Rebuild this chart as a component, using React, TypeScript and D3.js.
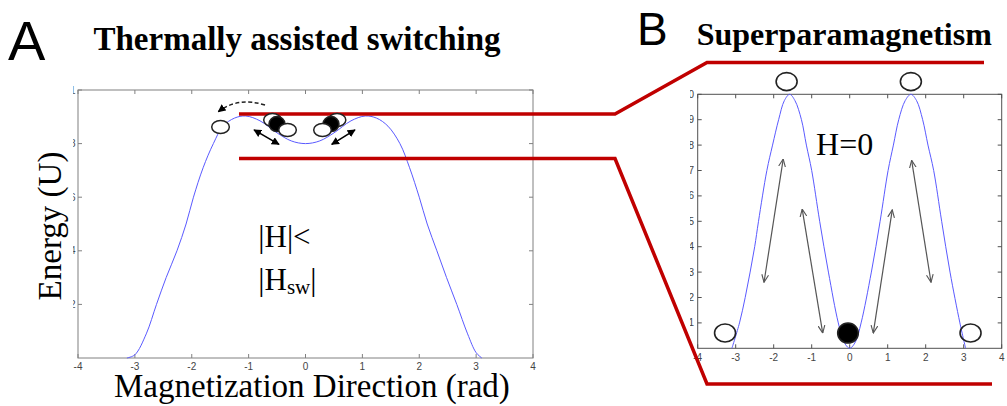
import React from 'react';
import * as d3 from 'd3';

// Panel A: energy landscape, |H| < |Hsw|
const thetaA = [-3.14, -3.0, -2.8, -2.62, -2.45, -2.26, -2.1, -1.97, -1.8, -1.62, -1.45, -1.25, -1.05, -0.8, -0.5, -0.25, 0, 0.25, 0.5, 0.8, 1.05, 1.25, 1.45, 1.66, 1.83, 2.0, 2.14, 2.31, 2.48, 2.66, 2.85, 3.0, 3.1];
const energyA = [0.0, 0.012, 0.09, 0.2, 0.3, 0.4, 0.5, 0.6, 0.71, 0.8, 0.865, 0.895, 0.903, 0.885, 0.84, 0.81, 0.8, 0.81, 0.84, 0.885, 0.903, 0.895, 0.865, 0.8, 0.71, 0.6, 0.5, 0.4, 0.3, 0.2, 0.09, 0.02, 0.0];

// Panel B: energy landscape, H = 0
const thetaB = [-3.1, -2.9, -2.75, -2.62, -2.5, -2.4, -2.18, -2.03, -1.87, -1.72, -1.58, -1.44, -1.27, -1.14, -1.0, -0.79, -0.56, -0.3, -0.15, 0, 0.15, 0.3, 0.57, 0.8, 1.01, 1.15, 1.29, 1.46, 1.61, 1.76, 1.92, 2.06, 2.21, 2.42, 2.64, 2.9, 3.05];
const energyB = [0.0, 0.1, 0.2, 0.3, 0.4, 0.5, 0.7, 0.8, 0.9, 0.975, 1.0, 0.975, 0.9, 0.8, 0.7, 0.5, 0.3, 0.1, 0.025, 0.0, 0.025, 0.1, 0.3, 0.5, 0.7, 0.8, 0.9, 0.975, 1.0, 0.975, 0.9, 0.8, 0.7, 0.5, 0.3, 0.1, 0.0];

const xTickValues = [-4, -3, -2, -1, 0, 1, 2, 3, 4];
const xTickLabels = ['-4', '-3', '-2', '-1', '0', '1', '2', '3', '4'];
const yTickValuesA = [0.2, 0.4, 0.6, 0.8, 1.0];
const yTickLabelsA = ['0.2', '0.4', '0.6', '0.8', '1'];
const yTickValuesB = [0.1, 0.2, 0.3, 0.4, 0.5, 0.6, 0.7, 0.8, 0.9, 1.0];
const yTickLabelsB = ['0.1', '0.2', '0.3', '0.4', '0.5', '0.6', '0.7', '0.8', '0.9', '1.0'];

// Annotation particles (data coordinates)
const particleXA = [-1.494, -0.58, -0.501, -0.316, 0.554, 0.448, 0.299];
const particleYA = [0.862, 0.888, 0.873, 0.851, 0.888, 0.873, 0.851];
const particleFilledA = [false, false, true, false, false, true, false];

const particleXB = [-1.66, 1.61, -3.28, -0.045, 3.18];
const particleYB = [1.05, 1.05, 0.06, 0.06, 0.06];
const particleFilledB = [false, false, false, true, false];

// Double arrows (data coordinates) in panel A
const arrowsA = [
  [-0.905, 0.851, -0.466, 0.797],
  [0.461, 0.797, 0.87, 0.851],
];
// Gray double arrows in panel B
const arrowsB = [
  [-1.75, 0.745, -2.255, 0.26],
  [-1.25, 0.548, -0.71, 0.06],
  [1.12, 0.545, 0.62, 0.06],
  [1.63, 0.74, 2.14, 0.26],
];

const W = 1007;
const H = 406;

const serif = '"Liberation Serif", "Times New Roman", serif';
const sans = '"Liberation Sans", Arial, sans-serif';

export default function App() {
  const xA = d3.scaleLinear().domain([-4, 4]).range([78, 533]);
  const yA = d3.scaleLinear().domain([0, 1]).range([358, 90]);
  const xB = d3.scaleLinear().domain([-4, 4]).range([697.7, 1001.7]);
  const yB = d3.scaleLinear().domain([0, 1]).range([348.3, 94.3]);

  const lineA = d3
    .line<number>()
    .x((d, i) => xA(thetaA[i]))
    .y((d) => yA(d))
    .curve(d3.curveCatmullRom.alpha(0.5));
  const lineB = d3
    .line<number>()
    .x((d, i) => xB(thetaB[i]))
    .y((d) => yB(d))
    .curve(d3.curveCatmullRom.alpha(0.5));

  const tick = 4;

  const axisBox = (
    x: d3.ScaleLinear<number, number>,
    y: d3.ScaleLinear<number, number>,
    yVals: number[],
    yLabels: string[],
    color: string,
    xLabelY: number,
    yLabelX: number,
    clipId: string
  ) => {
    const [x0, x1] = x.range();
    const [y0, y1] = y.range();
    return (
      <g>
        <rect x={x0} y={y1} width={x1 - x0} height={y0 - y1} fill="none" stroke={color} strokeWidth={1} />
        {xTickValues.map((v, i) => (
          <g key={'xt' + i}>
            <line x1={x(v)} x2={x(v)} y1={y0} y2={y0 - tick} stroke={color} />
            <line x1={x(v)} x2={x(v)} y1={y1} y2={y1 + tick} stroke={color} />
            <text x={x(v)} y={xLabelY} fontFamily={sans} fontSize={10} fill="#444" textAnchor="middle">
              {xTickLabels[i]}
            </text>
          </g>
        ))}
        {yVals.map((v, i) => (
          <g key={'yt' + i}>
            <line x1={x0} x2={x0 + tick} y1={y(v)} y2={y(v)} stroke={color} />
            <line x1={x1} x2={x1 - tick} y1={y(v)} y2={y(v)} stroke={color} />
            <text
              x={yLabelX}
              y={y(v) + 3.5}
              fontFamily={sans}
              fontSize={10}
              fill="#444"
              textAnchor="end"
              clipPath={`url(#${clipId})`}
            >
              {yLabels[i]}
            </text>
          </g>
        ))}
      </g>
    );
  };

  const red = '#c00000';

  return (
    <svg
      width={W}
      height={H}
      viewBox={`0 0 ${W} ${H}`}
      style={{ position: 'absolute', left: 0, top: 0, background: '#fff' }}
    >
      <defs>
        <clipPath id="clipA">
          <rect x={73.2} y={0} width={10} height={H} />
        </clipPath>
        <clipPath id="clipB">
          <rect x={690} y={0} width={10} height={H} />
        </clipPath>
        <marker
          id="solidHead"
          viewBox="0 0 10 10"
          refX={9}
          refY={5}
          markerWidth={8}
          markerHeight={8}
          markerUnits="userSpaceOnUse"
          orient="auto-start-reverse"
        >
          <path d="M0,0 L10,5 L0,10 z" fill="#000" />
        </marker>
        <marker
          id="openHead"
          viewBox="0 0 10 10"
          refX={9.5}
          refY={5}
          markerWidth={8}
          markerHeight={8}
          markerUnits="userSpaceOnUse"
          orient="auto-start-reverse"
        >
          <path d="M0,0.8 L9.5,5 L0,9.2" fill="none" stroke="#555" strokeWidth={1.4} />
        </marker>
      </defs>

      <rect x={0} y={0} width={W} height={H} fill="#fff" />

      {/* Panel labels and titles */}
      <text x={8} y={60} fontFamily={sans} fontSize={56} fill="#000">A</text>
      <text x={93.5} y={50} fontFamily={serif} fontSize={33} fontWeight="bold" fill="#000">
        Thermally assisted switching
      </text>
      <text x={637} y={45} fontFamily={sans} fontSize={46} fill="#000">B</text>
      <text x={696.7} y={44.5} fontFamily={serif} fontSize={32} fontWeight="bold" fill="#000">
        Superparamagnetism
      </text>

      {/* Panel A */}
      {axisBox(xA, yA, yTickValuesA, yTickLabelsA, '#808080', 369.5, 75.5, 'clipA')}
      <path d={lineA(energyA) || ''} fill="none" stroke="#5a5aff" strokeWidth={1} />
      <text x={114} y={397} fontFamily={serif} fontSize={33} fill="#000">
        Magnetization Direction (rad)
      </text>
      <text
        transform={`translate(61,226) rotate(-90)`}
        fontFamily={serif}
        fontSize={33}
        fill="#000"
        textAnchor="middle"
      >
        Energy (U)
      </text>
      <text x={258.3} y={247} fontFamily={serif} fontSize={31} fill="#000">
        |H|&lt;
      </text>
      <text x={258.3} y={290} fontFamily={serif} fontSize={31} fill="#000">
        |H
        <tspan fontSize={21} dy={4}>sw</tspan>
        <tspan dy={-4}>|</tspan>
      </text>

      {/* Panel B */}
      {axisBox(xB, yB, yTickValuesB, yTickLabelsB, '#505050', 361, 694, 'clipB')}
      <path d={lineB(energyB) || ''} fill="none" stroke="#5a5aff" strokeWidth={1} />
      <text x={844.7} y={155} fontFamily={serif} fontSize={32} fill="#000" textAnchor="middle">
        H=0
      </text>
      {arrowsB.map((a, i) => (
        <line
          key={'ab' + i}
          x1={xB(a[0])}
          y1={yB(a[1])}
          x2={xB(a[2])}
          y2={yB(a[3])}
          stroke="#555"
          strokeWidth={1.2}
          markerStart="url(#openHead)"
          markerEnd="url(#openHead)"
        />
      ))}

      {/* Red connector lines */}
      <polyline
        points="239,114 615,114 707,62.5 984,62.5"
        fill="none"
        stroke={red}
        strokeWidth={3.5}
        strokeLinejoin="miter"
      />
      <polyline
        points="239,158.5 615,158.5 707,384 992,384"
        fill="none"
        stroke={red}
        strokeWidth={3.5}
        strokeLinejoin="miter"
      />

      {/* Particles in A */}
      {particleXA.map((v, i) => (
        <ellipse
          key={'pa' + i}
          cx={xA(v)}
          cy={yA(particleYA[i])}
          rx={particleFilledA[i] ? 8 : 8.8}
          ry={particleFilledA[i] ? 7.5 : 6.5}
          fill={particleFilledA[i] ? '#000' : '#fff'}
          stroke="#222"
          strokeWidth={1.5}
        />
      ))}
      {arrowsA.map((a, i) => (
        <line
          key={'aa' + i}
          x1={xA(a[0])}
          y1={yA(a[1])}
          x2={xA(a[2])}
          y2={yA(a[3])}
          stroke="#000"
          strokeWidth={1.6}
          markerStart="url(#solidHead)"
          markerEnd="url(#solidHead)"
        />
      ))}
      <path
        d={`M${xA(-0.712)},${yA(0.944)} Q${xA(-1.19)},${yA(0.975)} ${xA(-1.533)},${yA(0.919)}`}
        fill="none"
        stroke="#222"
        strokeWidth={1.5}
        strokeDasharray="4,2.5"
        markerEnd="url(#solidHead)"
      />

      {/* Particles in B */}
      {particleXB.map((v, i) => (
        <ellipse
          key={'pb' + i}
          cx={xB(v)}
          cy={yB(particleYB[i])}
          rx={particleFilledB[i] ? 10.3 : 10.5}
          ry={particleFilledB[i] ? 10 : 9}
          fill={particleFilledB[i] ? '#000' : 'none'}
          stroke="#222"
          strokeWidth={1.6}
        />
      ))}
    </svg>
  );
}
